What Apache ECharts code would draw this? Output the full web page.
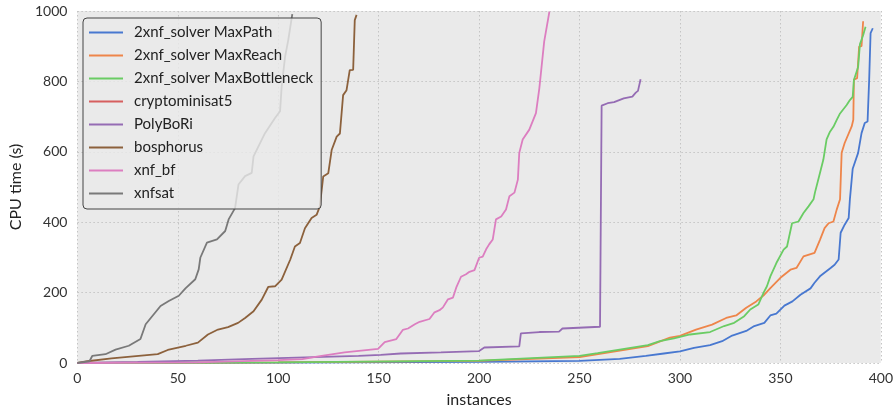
<!DOCTYPE html>
<html>
<head>
<meta charset="utf-8">
<script src="https://cdn.jsdelivr.net/npm/echarts@6/dist/echarts.min.js"></script>
<style>
html,body{margin:0;padding:0;background:#fff;}
#c{width:896px;height:413px;}
</style>
</head>
<body>
<div id="c"></div>
<script>
var seriesNames = ["2xnf_solver MaxPath","2xnf_solver MaxReach","2xnf_solver MaxBottleneck","cryptominisat5","PolyBoRi","bosphorus","xnf_bf","xnfsat"];
var seriesColors = ["#4878D0","#EE854A","#6ACC64","#D65F5F","#956CB4","#8C613C","#DC7EC0","#797979"];
var xTicks = [0,50,100,150,200,250,300,350,400];
var yTicks = [0,200,400,600,800,1000];

var maxPath = [[0,0],[100,1],[200,3],[250,6],[270,12],[283,20],[292,27],[300,33],[307,43],[315,51],[321,62],[326,78],[333,91],[337,105],[342,114],[345,135],[348,140],[352,163],[356,175],[360,194],[365,212],[367,228],[370,248],[375,270],[377,279],[379,294],[380,370],[382,393],[384,412],[384.6,465],[386,552],[388.7,597],[390.4,653],[392,682],[393.4,686],[394.2,805],[394.9,937],[396,951]];
var maxReach = [[0,0],[100,2],[200,6],[250,17],[284,48],[295,72],[300,77],[308,95],[316,109],[323,128],[328,135],[333,157],[338,175],[342,194],[345,213],[350,242],[355,265],[358,270],[361.5,303],[367,313],[369.7,350],[372,383],[374,397],[376.4,402],[378,435],[379.7,465],[380.5,597],[382,625],[385.5,672],[386.3,691],[386.6,805],[388.2,809],[389.2,899],[390.4,900],[391.2,971]];
var maxBottleneck = [[0,0],[100,2],[200,7],[250,20],[259,28],[284,51],[290,62],[297,70],[305,81],[315,88],[322,105],[327,114],[332,133],[335,152],[339,166],[341.6,199],[343.3,218],[345,246],[348,284],[351.6,322],[353.3,331],[355.8,397],[359,402],[361.5,426],[364,445],[366.5,465],[367.2,484],[369.7,540],[371.4,578],[373,635],[374.7,657],[376.4,671],[378,690],[379.7,709],[383,733],[384.6,747],[386,756],[386.6,804],[388.7,841],[389.6,906],[391.2,931],[392.4,955]];
var crypto = [[0,0],[50,1],[100,2],[137,4],[150,15],[161,28],[168,38],[176,59],[182,65],[183.6,76],[189,79],[199,92],[204,98],[210,101],[213.4,117],[218.4,129],[221.7,147],[225,158],[229,170],[232.4,176],[237.3,191],[242.3,210],[244.8,229],[249,240],[250.6,261],[253.9,285],[256.4,318],[259.7,325],[263.9,356],[267.2,384],[268.9,408],[270.5,465],[271.3,474],[273,485],[275,488],[276.3,516],[278.7,540],[281.2,554],[282.9,568],[284.5,611],[287.8,635],[289.5,658],[292,672],[294.4,677],[296.1,693],[297.8,736],[299.5,748],[300.2,762],[301.1,856]];
var polybori = [[0,0],[30,3],[60,7],[87,12],[140,20],[151,23],[161,27],[181,30],[200,34],[202.6,44],[220,47],[220.8,84],[230,88],[239.8,89],[241.5,98],[260.2,103],[261,731],[264,738],[267.2,741],[272,752],[276.3,757],[278,768],[279.1,773],[280.4,806]];
var bosphorus = [[0,0],[5,5],[17,13],[40,25],[45,37],[54,49],[60,58],[65,81],[70,95],[75,102],[80,114],[83.5,128],[87.7,147],[91.8,180],[95,216],[98.4,218],[101.7,237],[106,294],[108.3,331],[110.8,341],[113.3,383],[116.6,412],[119.1,421],[120.7,445],[122.4,530],[124.9,539],[126.6,605],[129.1,643],[130.7,652],[132.3,761],[134,775],[135.6,832],[137.3,833],[138.1,974],[139,989]];
var xnfbf = [[0,0],[60,2],[100,8],[112,11],[120,19],[133,30],[149.7,40],[153,59],[158.8,68],[162,94],[164.6,98],[168,110],[170.4,117],[175.3,125],[177.8,144],[180.3,150],[182,158],[184.5,181],[187,186],[188.6,214],[191,245],[193.5,252],[195.2,259],[197.7,264],[200,299],[201.8,302],[203.5,323],[205,337],[206.8,351],[208.4,408],[211,416],[213.4,436],[215.1,474],[217.6,484],[219.3,521],[220,597],[221.7,635],[225,663],[228.3,710],[230,781],[232.4,913],[235,998]];
var xnfsat = [[0,0],[6,5],[7.4,20],[14,25],[19,38],[25.6,49],[31.4,68],[34,110],[41.4,162],[45.5,176],[50.5,191],[53.8,212],[58.7,238],[60.4,266],[61.2,299],[64.5,342],[69.5,351],[73.6,375],[75.3,408],[78.5,440],[80.2,507],[83.5,531],[86.8,540],[87.7,587],[93.4,653],[98.4,696],[100.9,715],[101.7,785],[103.4,870],[105,918],[107,991]];

var allData = [maxPath, maxReach, maxBottleneck, crypto, polybori, bosphorus, xnfbf, xnfsat];

var FONT = 'Lato';
var chart = echarts.init(document.getElementById('c'), null, {renderer:'canvas'});
var series = allData.map(function(d, i){
  return {
    name: seriesNames[i],
    type: 'line',
    data: d,
    symbol: 'none',
    showSymbol: false,
    animation: false,
    lineStyle: {width: 1.8, color: seriesColors[i]},
    itemStyle: {color: seriesColors[i]}
  };
});
chart.setOption({
  animation: false,
  textStyle: {fontFamily: FONT},
  grid: {left: 75, right: 15, top: 11, bottom: 49, show: true, backgroundColor: '#EAEAEA', borderWidth: 0},
  legend: {
    orient: 'vertical', left: 83, top: 18,
    padding: [7, 8, 8, 6],
    itemGap: 8, itemWidth: 34, itemHeight: 14,
    icon: 'path://M0,0 L34,0 L34,1.8 L0,1.8 Z',
    backgroundColor: 'rgba(234,234,234,0.8)',
    borderColor: '#444', borderWidth: 1, borderRadius: 4,
    textStyle: {fontFamily: FONT, fontSize: 15, color: '#222', padding: [0,0,0,6]},
    data: seriesNames
  },
  xAxis: {
    type: 'value', min: 0, max: 400, interval: 50,
    name: 'instances', nameLocation: 'middle', nameGap: 29,
    nameTextStyle: {fontFamily: FONT, fontSize: 16, color: '#222'},
    axisLine: {show: false}, axisTick: {show: false},
    axisLabel: {fontFamily: FONT, fontSize: 14, color: '#333', margin: 8},
    splitLine: {show: true, lineStyle: {color: '#C4C4C4', type: [1.5, 2.5], width: 1}}
  },
  yAxis: {
    type: 'value', min: 0, max: 1000, interval: 200,
    name: 'CPU time (s)', nameLocation: 'middle', nameGap: 44,
    nameTextStyle: {fontFamily: FONT, fontSize: 16, color: '#222'},
    axisLine: {show: false}, axisTick: {show: false},
    axisLabel: {fontFamily: FONT, fontSize: 14, color: '#333', margin: 10, formatter: function(v){ return String(v); }},
    splitLine: {show: true, lineStyle: {color: '#C4C4C4', type: [1.5, 2.5], width: 1}}
  },
  series: series
});
</script>
</body>
</html>
